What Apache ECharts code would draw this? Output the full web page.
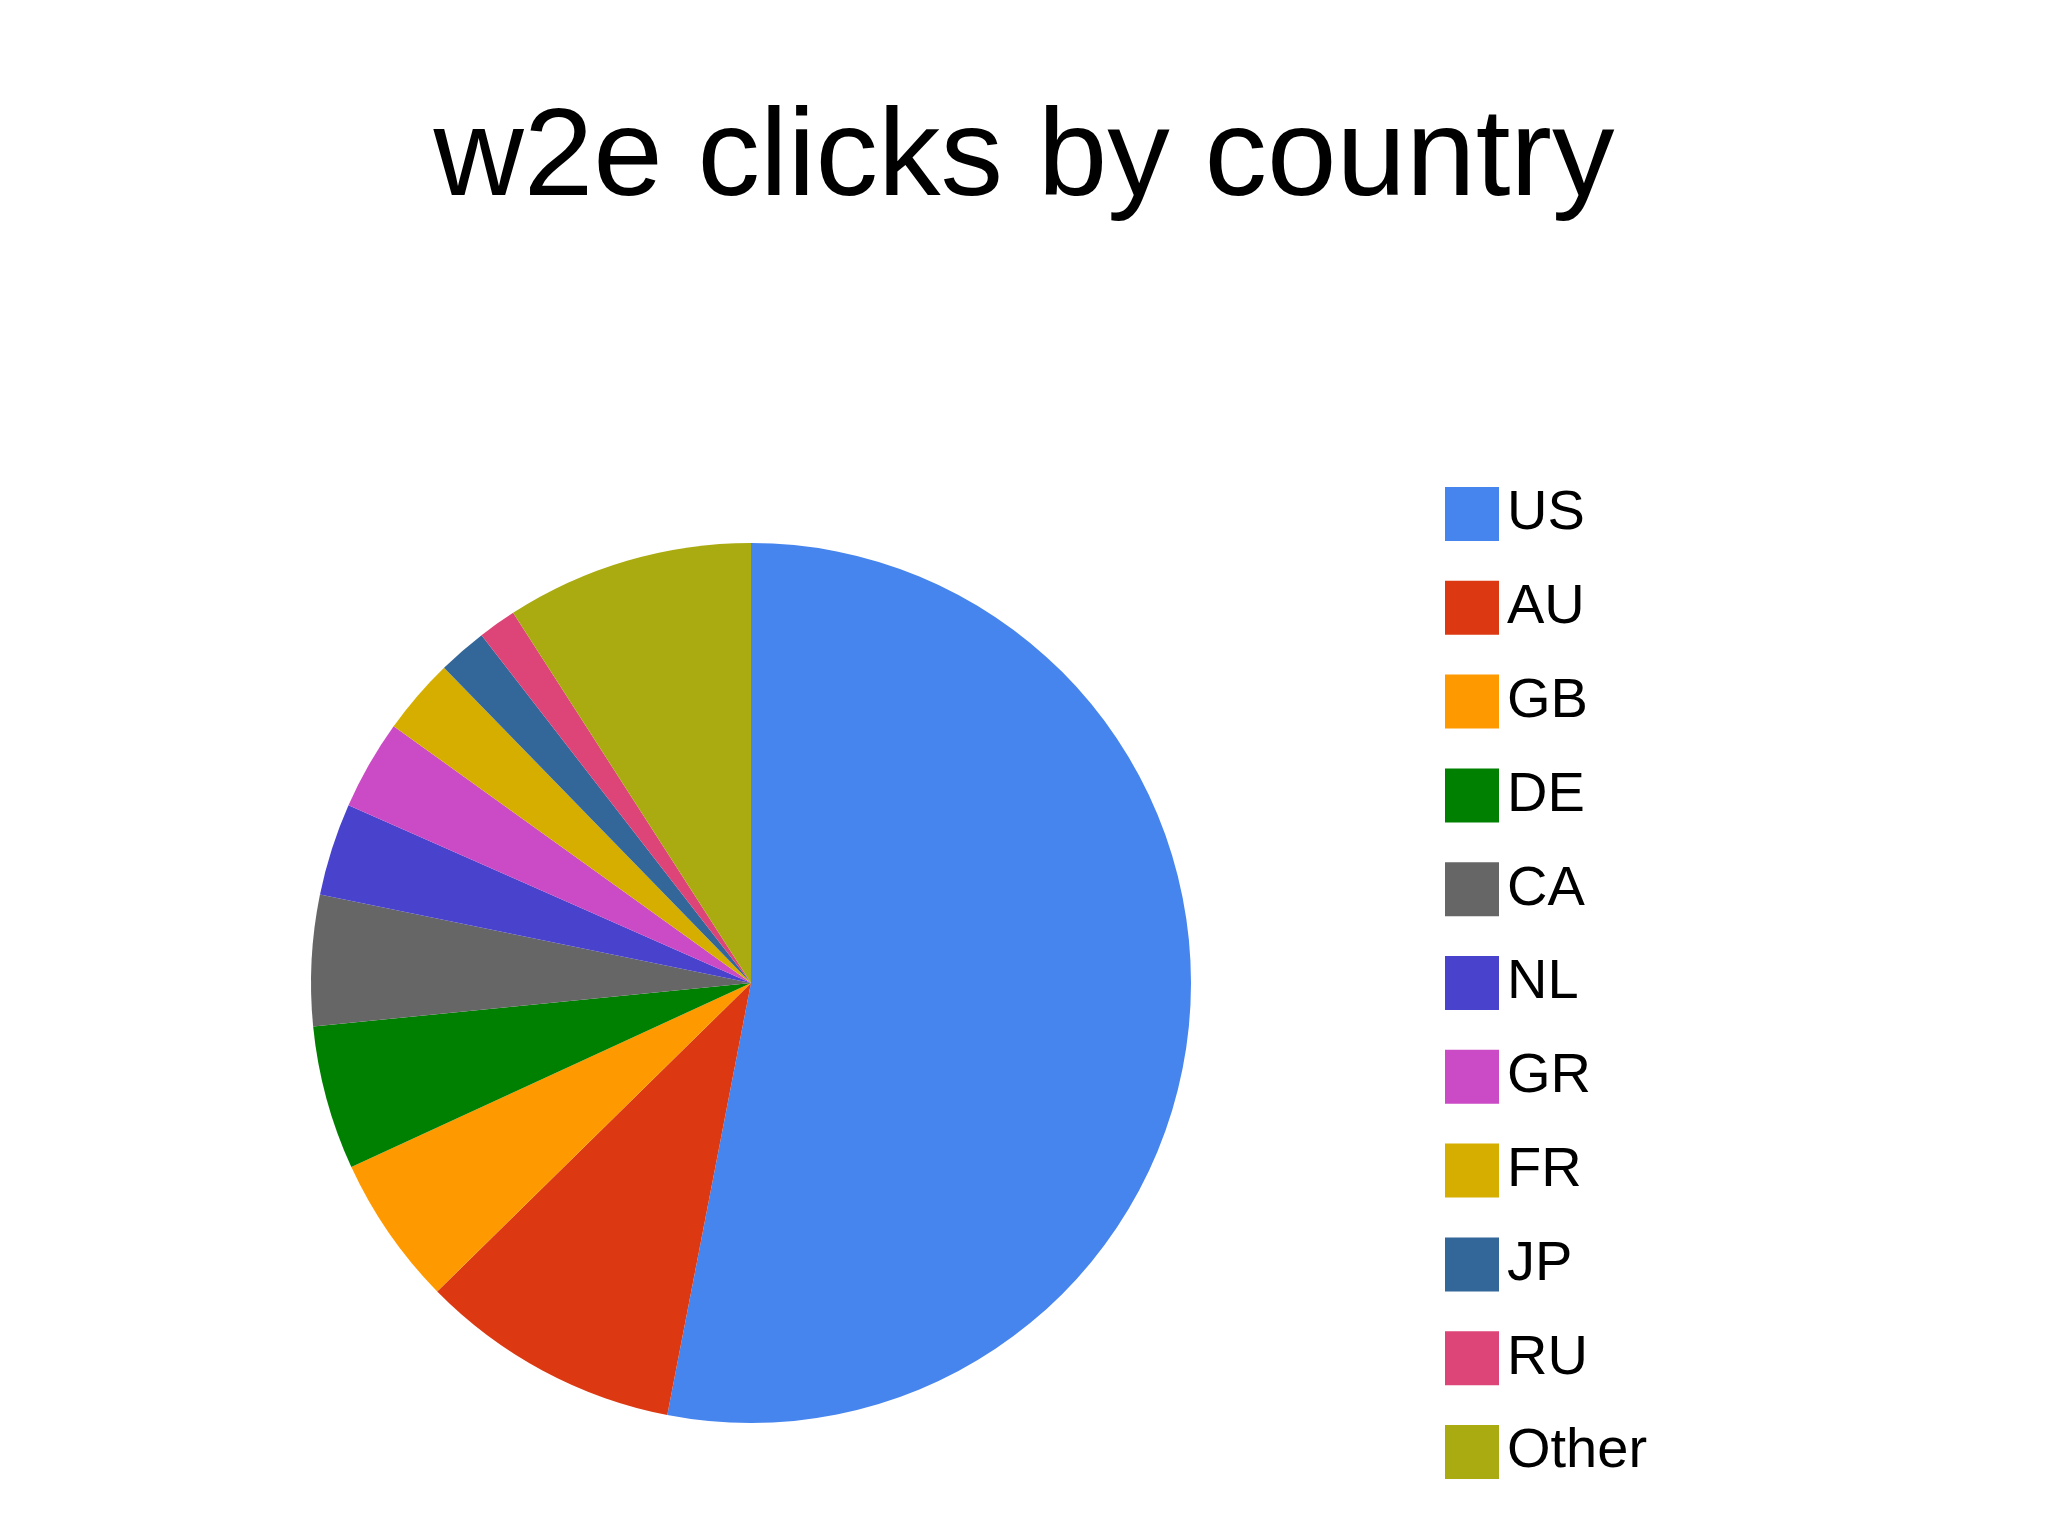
<!DOCTYPE html>
<html>
<head>
<meta charset="utf-8">
<style>
html,body{margin:0;padding:0;background:#ffffff;}
#chart{width:2048px;height:1536px;}
</style>
<script src="https://cdn.jsdelivr.net/npm/echarts@6/dist/echarts.min.js"></script>
</head>
<body>
<div id="chart"></div>
<script>
const titleText = 'w2e clicks by country';
const countries = ['US', 'AU', 'GB', 'DE', 'CA', 'NL', 'GR', 'FR', 'JP', 'RU', 'Other'];
const clickShares = [53.1, 9.6, 5.5, 5.3, 4.8, 3.4, 3.3, 2.8, 1.8, 1.4, 9.1];
const sliceColors = ['#4684EE', '#DC3912', '#FF9900', '#008000', '#666666', '#4942CC', '#CB4AC5', '#D6AE00', '#336699', '#DD4477', '#AAAA11'];

const chart = echarts.init(document.getElementById('chart'), null, {renderer: 'canvas'});
chart.setOption({
  backgroundColor: '#ffffff',
  animation: false,
  color: sliceColors,
  title: {
    text: titleText,
    left: 'center',
    top: 93,
    textStyle: {
      fontFamily: 'Liberation Sans, Arial, sans-serif',
      fontSize: 125,
      fontWeight: 'normal',
      color: '#000000'
    }
  },
  legend: {
    orient: 'vertical',
    left: 1445,
    top: 486,
    padding: 0,
    itemWidth: 54,
    itemHeight: 54,
    itemGap: 37.8,
    icon: 'rect',
    selectedMode: false,
    data: countries,
    textStyle: {
      fontFamily: 'Liberation Sans, Arial, sans-serif',
      fontSize: 56,
      lineHeight: 54,
      padding: [0, 0, 0, 3],
      color: '#000000'
    }
  },
  series: [{
    type: 'pie',
    center: [751, 983],
    radius: 440,
    startAngle: 90,
    clockwise: true,
    label: {show: false},
    labelLine: {show: false},
    emphasis: {disabled: true},
    itemStyle: {borderWidth: 0},
    data: countries.map((c, i) => ({name: c, value: clickShares[i]}))
  }]
});
</script>
</body>
</html>
